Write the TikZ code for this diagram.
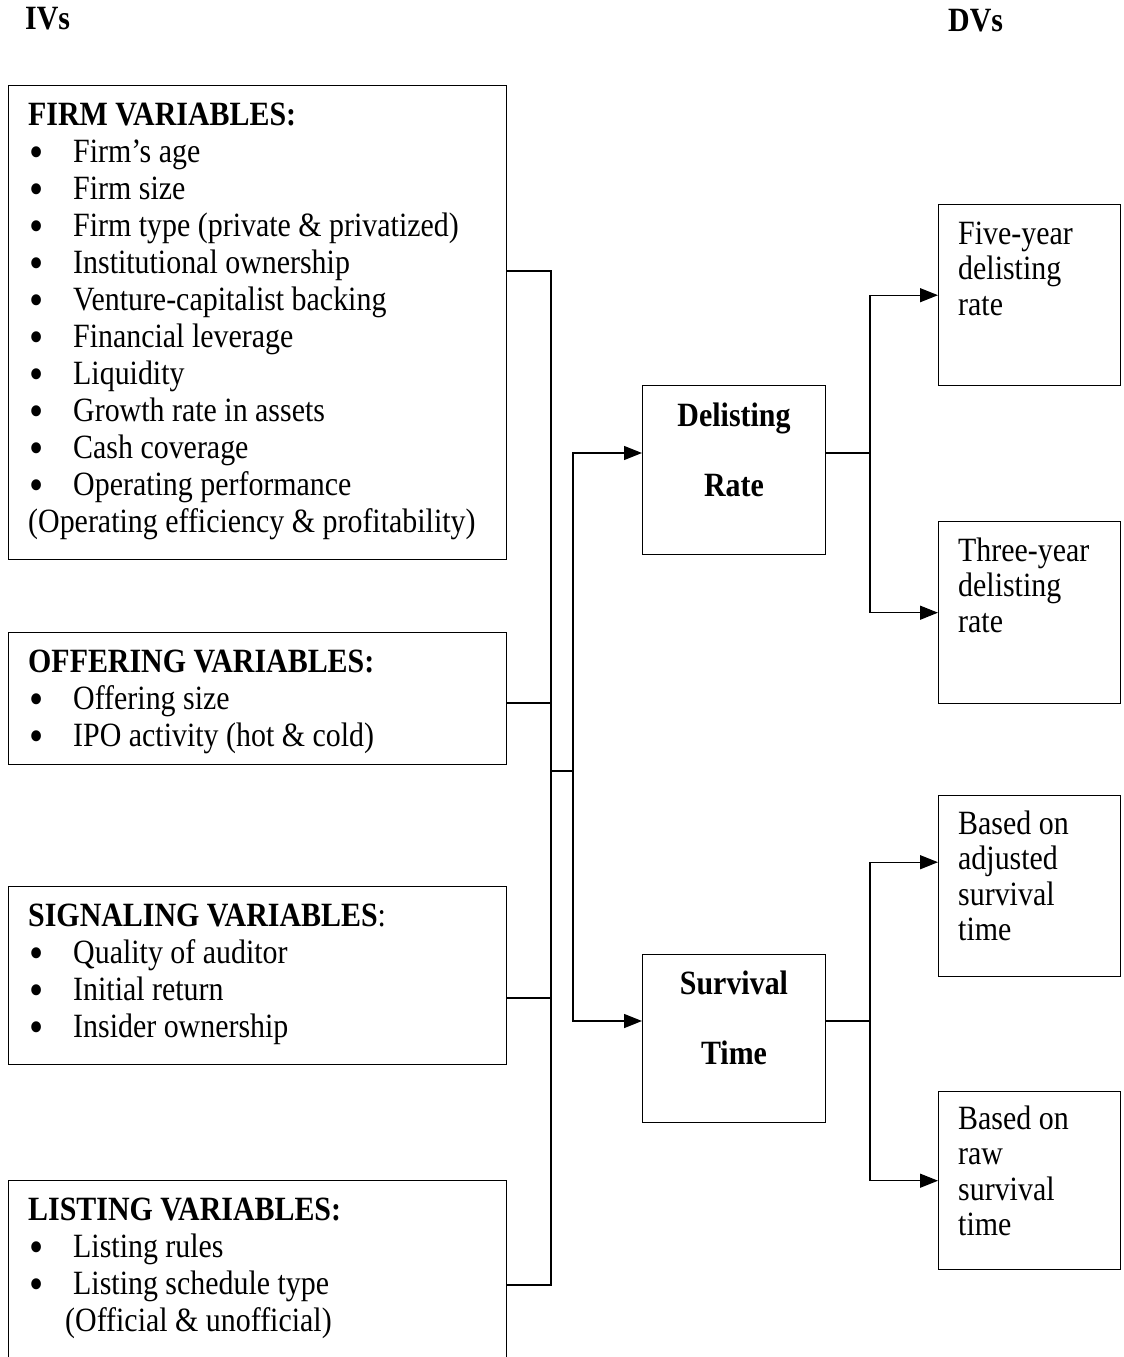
\documentclass[tikz,border=0pt]{standalone}
\usepackage{fontspec}
\setmainfont{Liberation Serif}[FakeStretch=0.88]
\usetikzlibrary{arrows.meta}

\newcommand{\itm}{\makebox[45pt][l]{\hspace{1pt}\raisebox{-5pt}{\fontsize{46}{37}\selectfont\textbullet}}}
\newcommand{\tightspace}{\spaceskip=7.5pt plus 2pt minus 1pt}

\begin{document}
\begin{tikzpicture}[x=1pt, y=-1pt,
    font=\fontsize{34}{37}\selectfont,
    box/.style={draw, line width=1.4pt, inner sep=0pt, anchor=north west},
    ivtext/.style={anchor=base west, inner sep=0pt, align=left, text width=485pt,
      execute at begin node=\tightspace},
    dvtext/.style={anchor=base west, inner sep=0pt, align=left, text width=160pt,
      font=\fontsize{34}{35.5}\selectfont, execute at begin node=\tightspace},
    midtext/.style={anchor=base, inner sep=0pt, align=center,
      font=\fontsize{34}{70}\selectfont\bfseries},
    link/.style={line width=1.4pt},
    arr/.style={line width=1.4pt, -{Triangle[length=18pt,width=14pt]}}]

    \useasboundingbox (0,0) rectangle (1124,1357);

    % Headings
    \node[anchor=base west, inner sep=0pt, font=\fontsize{34}{37}\selectfont\bfseries] (ivs) at (25,29) {IVs};
    \node[anchor=base west, inner sep=0pt, font=\fontsize{34}{37}\selectfont\bfseries] (dvs) at (948,31) {DVs};

    % Left: independent variables
    \node[box, minimum width=498pt, minimum height=474pt] (firm) at (8,85) {};
    \node[ivtext] (firmtext) at (28,125) {\textbf{FIRM VARIABLES:}\\
      \itm Firm’s age\\
      \itm Firm size\\
      \itm Firm type (private \& privatized)\\
      \itm Institutional ownership\\
      \itm Venture-capitalist backing\\
      \itm Financial leverage\\
      \itm Liquidity\\
      \itm Growth rate in assets\\
      \itm Cash coverage\\
      \itm Operating performance\\
      (Operating efficiency \& profitability)};

    \node[box, minimum width=498pt, minimum height=132pt] (offering) at (8,632) {};
    \node[ivtext] (offeringtext) at (28,672) {\textbf{OFFERING VARIABLES:}\\
      \itm Offering size\\
      \itm IPO activity (hot \& cold)};

    \node[box, minimum width=498pt, minimum height=178pt] (signaling) at (8,886) {};
    \node[ivtext] (signalingtext) at (28,926) {\textbf{SIGNALING VARIABLES}:\\
      \itm Quality of auditor\\
      \itm Initial return\\
      \itm Insider ownership};

    \node[box, minimum width=498pt, minimum height=230pt] (listing) at (8,1180) {};
    \node[ivtext] (listingtext) at (28,1220) {\textbf{LISTING VARIABLES:}\\
      \itm Listing rules\\
      \itm Listing schedule type\\
      \hspace{37pt}(Official \& unofficial)};

    % Middle: the two measures
    \node[box, minimum width=183pt, minimum height=169pt] (delisting) at (642,385) {};
    \node[midtext] (delistingtext) at (734,496) {Delisting\\Rate};

    \node[box, minimum width=183pt, minimum height=168pt] (survival) at (642,954) {};
    \node[midtext] (survivaltext) at (734,1064) {Survival\\Time};

    % Right: dependent variables
    \node[box, minimum width=182pt, minimum height=181pt] (five) at (938,204) {};
    \node[dvtext] (fivetext) at (958,244) {Five-year\\delisting\\rate};

    \node[box, minimum width=182pt, minimum height=182pt] (three) at (938,521) {};
    \node[dvtext] (threetext) at (958,561) {Three-year\\delisting\\rate};

    \node[box, minimum width=182pt, minimum height=181pt] (adjusted) at (938,795) {};
    \node[dvtext] (adjustedtext) at (958,834) {Based on\\adjusted\\survival\\time};

    \node[box, minimum width=182pt, minimum height=178pt] (raw) at (938,1091) {};
    \node[dvtext] (rawtext) at (958,1129) {Based on\\raw\\survival\\time};

    % Connectors
    \coordinate (busF) at (551,271);
    \coordinate (busO) at (551,703);
    \coordinate (busS) at (551,998);
    \coordinate (busL) at (551,1285);
    \coordinate (join) at (551,771);
    \coordinate (splitA) at (573,453);
    \coordinate (splitB) at (573,1021);
    \coordinate (forkA) at (870,453);
    \coordinate (forkB) at (870,1021);

    \draw[link] (firm.east |- busF) -- (busF) -- (busL) -- (listing.east |- busL);
    \draw[link] (offering.east |- busO) -- (busO);
    \draw[link] (signaling.east |- busS) -- (busS);
    \draw[link] (join) -- (join -| splitA);
    \draw[arr] (join -| splitA) -- (splitA) -- (delisting.west |- splitA);
    \draw[arr] (join -| splitA) -- (splitB) -- (survival.west |- splitB);

    \draw[link] (delisting.east |- forkA) -- (forkA);
    \draw[arr] (forkA) |- (five.west);
    \draw[arr] (forkA) |- (three.west);

    \draw[link] (survival.east |- forkB) -- (forkB);
    \draw[arr] (forkB) |- ([yshift=24pt]adjusted.west);
    \draw[arr] (forkB) |- (raw.west);

  \end{tikzpicture}
\end{document}
